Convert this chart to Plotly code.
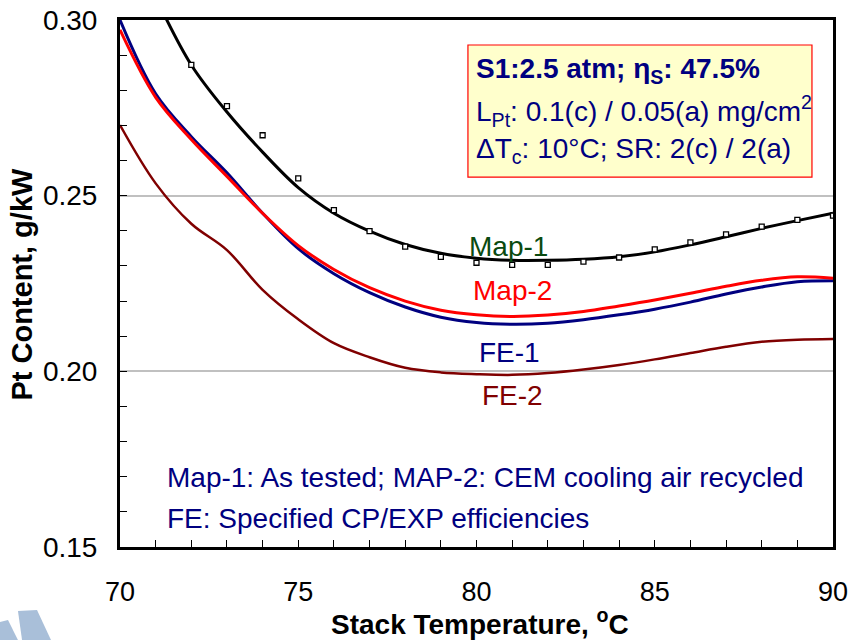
import plotly.graph_objects as go

# Stack temperature grid (degC)
temp = [70, 71, 72, 73, 74, 75, 76, 77, 78, 79, 80, 81, 82, 83, 84, 85, 86, 87, 88, 89, 90]

# Map-1: measured points and fitted curve (g/kW)
map1_temp = [72, 73, 74, 75, 76, 77, 78, 79, 80, 81, 82, 83, 84, 85, 86, 87, 88, 89, 90]
map1_pts = [0.2872, 0.2755, 0.2672, 0.2549, 0.2459, 0.2399, 0.2355, 0.2326, 0.2309, 0.2303,
            0.2303, 0.2312, 0.2324, 0.2347, 0.2367, 0.2390, 0.2412, 0.2431, 0.2443]
fit_temp = [71, 72, 73, 74, 75, 76, 77, 78, 79, 80, 81, 82, 83, 84, 85, 86, 87, 88, 89, 90]
map1_fit = [0.3065, 0.2872, 0.2738, 0.2624, 0.2523, 0.2450, 0.2399, 0.2361, 0.2336, 0.2322,
            0.2316, 0.2316, 0.2319, 0.2326, 0.2340, 0.2360, 0.2383, 0.2407, 0.2429, 0.2450]

# Map-2: CEM cooling air recycled
map2 = [0.2972, 0.2780, 0.2660, 0.2555, 0.2450, 0.2358, 0.2290, 0.2238, 0.2200, 0.2174, 0.2161,
        0.2156, 0.2160, 0.2170, 0.2186, 0.2203, 0.2222, 0.2242, 0.2259, 0.2269, 0.2265]

# FE-1 / FE-2: specified compressor / expander efficiencies
fe1 = [0.3000, 0.2790, 0.2668, 0.2565, 0.2450, 0.2349, 0.2278, 0.2224, 0.2183, 0.2154, 0.2139,
       0.2134, 0.2137, 0.2147, 0.2161, 0.2177, 0.2197, 0.2220, 0.2240, 0.2255, 0.2258]
fe2 = [0.2701, 0.2535, 0.2420, 0.2345, 0.2232, 0.2148, 0.2080, 0.2040, 0.2010, 0.1997, 0.1992,
       0.1990, 0.1995, 0.2005, 0.2018, 0.2034, 0.2052, 0.2070, 0.2084, 0.2090, 0.2092]

FONT = "Liberation Sans, Arial, sans-serif"
NAVY = "#000080"

fig = go.Figure()

fig.add_trace(go.Scatter(x=temp, y=fe2, mode="lines", line=dict(color="#800000", width=2.5, shape="spline"),
                         showlegend=False, hoverinfo="skip"))
fig.add_trace(go.Scatter(x=temp, y=fe1, mode="lines", line=dict(color=NAVY, width=3, shape="spline"),
                         showlegend=False, hoverinfo="skip"))
fig.add_trace(go.Scatter(x=temp, y=map2, mode="lines", line=dict(color="#ff0000", width=3, shape="spline"),
                         showlegend=False, hoverinfo="skip"))
fig.add_trace(go.Scatter(x=fit_temp, y=map1_fit, mode="lines", line=dict(color="black", width=3, shape="spline"),
                         showlegend=False, hoverinfo="skip"))
fig.add_trace(go.Scatter(x=map1_temp, y=map1_pts, mode="markers",
                         marker=dict(symbol="square", size=5, color="white", line=dict(color="black", width=1.3)),
                         showlegend=False, hoverinfo="skip"))

# curve labels
for txt, x, y, col in [("Map-1", 80.90, 0.2354, "#0a4a10"), ("Map-2", 81.0, 0.2229, "#ff0000"),
                       ("FE-1", 80.93, 0.2053, NAVY), ("FE-2", 81.02, 0.1931, "#800000")]:
    fig.add_annotation(x=x, y=y, xref="x", yref="y", text=txt, showarrow=False,
                       font=dict(family=FONT, size=28, color=col), xanchor="center", yanchor="middle")

# operating-condition box
fig.add_shape(type="rect", xref="paper", yref="paper", x0=0.488, x1=0.9705, y0=0.702, y1=0.9526,
              fillcolor="#ffffcc", line=dict(color="#ff0000", width=1.2), layer="above")
box_lines = [
    ("<b>S1:2.5 atm; \u03b7<sub>S</sub>: 47.5%</b>", 0.905),
    ("L<sub>Pt</sub>: 0.1(c) / 0.05(a) mg/cm<sup>2</sup>", 0.827),
    ("\u0394T<sub>c</sub>: 10\u00b0C; SR: 2(c) / 2(a)", 0.753),
]
for txt, y in box_lines:
    fig.add_annotation(x=0.496, y=y, xref="paper", yref="paper", text=txt, showarrow=False,
                       font=dict(family=FONT, size=28, color=NAVY), xanchor="left", yanchor="middle")

# notes
for txt, y in [("Map-1: As tested; MAP-2: CEM cooling air recycled", 0.131),
               ("FE: Specified CP/EXP efficiencies", 0.055)]:
    fig.add_annotation(x=0.0631, y=y, xref="paper", yref="paper", text=txt, showarrow=False,
                       font=dict(family=FONT, size=28, color=NAVY), xanchor="left", yanchor="middle")

# axis titles
fig.add_annotation(x=-0.1374, y=0.498, xref="paper", yref="paper", text="<b>Pt Content, g/kW</b>",
                   textangle=-90, showarrow=False, font=dict(family=FONT, size=29, color="black"),
                   xanchor="center", yanchor="middle")
fig.add_annotation(x=0.505, y=-0.1423, xref="paper", yref="paper",
                   text="<b>Stack Temperature, <sup>o</sup>C</b>", showarrow=False,
                   font=dict(family=FONT, size=28, color="black"), xanchor="center", yanchor="middle")

# logo fragment in the lower-left corner
def px(xp, yp):
    return (xp - 120) / 713, (547 - yp) / 527

def path(pts):
    s = ""
    for i, (a, b) in enumerate(pts):
        xx, yy = px(a, b)
        s += ("M" if i == 0 else "L") + f"{xx:.4f},{yy:.4f} "
    return s + "Z"

for poly in [[(0, 622), (8, 620), (18, 640), (0, 640)],
             [(18, 611), (37, 610), (51, 640), (22, 640)]]:
    fig.add_shape(type="path", xref="paper", yref="paper", path=path(poly),
                  fillcolor="#a9bfd9", line=dict(width=0), layer="above")

fig.update_layout(
    width=850, height=640,
    margin=dict(l=120, r=17, t=20, b=93),
    paper_bgcolor="white", plot_bgcolor="white",
    font=dict(family=FONT, size=28, color="black"),
    showlegend=False,
)
fig.update_xaxes(
    range=[70, 90], dtick=5, tick0=70, showgrid=False, zeroline=False, automargin=False,
    showline=True, linecolor="black", linewidth=3, mirror=True,
    ticks="inside", ticklen=7, tickwidth=1.2, tickcolor="black", ticklabelstandoff=19,
    minor=dict(dtick=1, ticks="inside", ticklen=7, tickwidth=1.2, tickcolor="black"),
    tickfont=dict(size=27),
)
fig.update_yaxes(
    range=[0.15, 0.30], dtick=0.05, tick0=0.15, tickformat=".2f", automargin=False,
    showgrid=True, gridcolor="#c0c0c0", gridwidth=1.5, zeroline=False,
    showline=True, linecolor="black", linewidth=3, mirror=True,
    ticks="inside", ticklen=7, tickwidth=1.2, tickcolor="black", ticklabelstandoff=14,
    minor=dict(dtick=0.01, ticks="inside", ticklen=7, tickwidth=1.2, tickcolor="black", showgrid=False),
    tickfont=dict(size=28),
)

fig.write_html("out.html")
